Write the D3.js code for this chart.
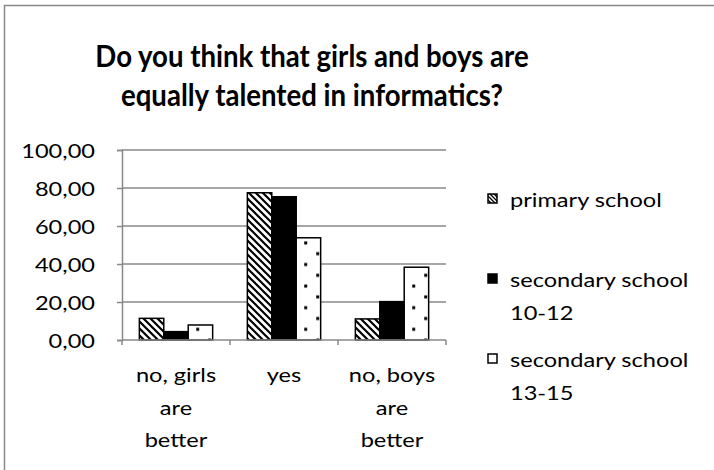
<!DOCTYPE html>
<html>
<head>
<meta charset="utf-8">
<script src="https://cdn.jsdelivr.net/npm/d3@7"></script>
<style>
  html, body { margin: 0; padding: 0; background: #fff; }
  svg { display: block; }
  text { font-family: "Lato", "Open Sans", sans-serif; fill: #000; }
</style>
</head>
<body>
<svg id="chart" width="714" height="470"></svg>
<script>
// ---- data ----
const categories = [["no, girls", "are", "better"], ["yes"], ["no, boys", "are", "better"]];
const seriesNames = [["primary school"], ["secondary school", "10-12"], ["secondary school", "13-15"]];
const primarySchool = [11.4, 77.5, 11.1];
const secondary1012 = [4.4, 75.4, 20.2];
const secondary1315 = [7.9, 53.8, 38.3];
const yTicks = [0, 20, 40, 60, 80, 100];
const titleLines = ["Do you think that girls and boys are", "equally talented in informatics?"];

const series = [primarySchool, secondary1012, secondary1315];

const SX = 1.18;          // horizontal stretch of regular text
const TSX = 0.89;         // horizontal squeeze of the title

const svg = d3.select("#chart");
const defs = svg.append("defs");

// helper: stretched text at (x, y)
function stext(parent, x, y, str, size, sx, anchor, weight) {
  return parent.append("text")
    .attr("transform", `translate(${x},${y}) scale(${sx},1)`)
    .attr("text-anchor", anchor || "start")
    .style("font-size", size + "px")
    .style("font-weight", weight || "normal")
    .text(str);
}

// patterns
const diag = defs.append("pattern").attr("id", "diag")
  .attr("patternUnits", "userSpaceOnUse").attr("width", 7).attr("height", 7);
diag.append("rect").attr("width", 7).attr("height", 7).attr("fill", "#fff");
diag.append("path").attr("d", "M-2,-2 L9,9 M-9,-2 L2,9 M5,-2 L16,9")
  .attr("stroke", "#000").attr("stroke-width", 2.2);

const diagSmall = defs.append("pattern").attr("id", "diagSmall")
  .attr("patternUnits", "userSpaceOnUse").attr("width", 4).attr("height", 4);
diagSmall.append("rect").attr("width", 4).attr("height", 4).attr("fill", "#fff");
diagSmall.append("path").attr("d", "M-1,-1 L5,5 M-5,-1 L1,5 M3,-1 L9,5")
  .attr("stroke", "#000").attr("stroke-width", 1.3);

const margin = { left: 122, right: 446, top: 150, bottom: 340 };

const x0 = d3.scaleBand().domain(d3.range(categories.length))
  .range([margin.left, margin.right]).paddingInner(0).paddingOuter(0);
const x1 = d3.scaleBand().domain(d3.range(series.length))
  .range([0, x0.bandwidth()]).paddingOuter(0.71).paddingInner(0);
const y = d3.scaleLinear().domain([0, 100]).range([margin.bottom, margin.top]);

// dotted patterns, one per category (offset relative to bar)
categories.forEach((c, i) => {
  const bx = x0(i) + x1(2);
  const p = defs.append("pattern").attr("id", "dots" + i)
    .attr("patternUnits", "userSpaceOnUse")
    .attr("x", bx).attr("y", 329.3 - 21.6 * 10)
    .attr("width", 24).attr("height", 21.6);
  p.append("rect").attr("width", 24).attr("height", 21.6).attr("fill", "#fff");
  p.append("rect").attr("x", 8).attr("y", -1.5).attr("width", 3).attr("height", 3).attr("fill", "#000");
  p.append("rect").attr("x", 8).attr("y", 20.1).attr("width", 3).attr("height", 3).attr("fill", "#000");
  p.append("rect").attr("x", 20).attr("y", 9.3).attr("width", 3).attr("height", 3).attr("fill", "#000");
});

// outer border (extends beyond view to the right and bottom)
svg.append("path").attr("d", "M4.5,480 L4.5,5.5 L720,5.5")
  .attr("fill", "none").attr("stroke", "#888").attr("stroke-width", 1.5);

// title
titleLines.forEach((t, i) => stext(svg, 312, 67 + i * 39, t, 31, TSX, "middle", "bold"));

// gridlines
svg.append("g").selectAll("line").data(yTicks.filter(d => d > 0)).join("line")
  .attr("x1", margin.left).attr("x2", margin.right)
  .attr("y1", d => y(d)).attr("y2", d => y(d))
  .attr("stroke", "#888").attr("stroke-width", 1.5);

// y axis
const fmt = d => d3.format(".2f")(d).replace(".", ",");
const yAxis = d3.axisLeft(y).tickValues(yTicks).tickSize(5).tickFormat(fmt);
const gy = svg.append("g").attr("transform", `translate(${margin.left},0)`).call(yAxis);
gy.select(".domain").attr("stroke", "#888").attr("stroke-width", 1.5);
gy.selectAll(".tick line").attr("stroke", "#888").attr("stroke-width", 1.5);
gy.selectAll(".tick text").remove();
gy.selectAll(".tick").each(function(d) {
  stext(d3.select(this), -27, 7, fmt(d), 20, SX, "end");
});

// bars
const g = svg.append("g");
categories.forEach((c, i) => {
  series.forEach((s, j) => {
    const fill = j === 0 ? "url(#diag)" : (j === 1 ? "#000" : `url(#dots${i})`);
    g.append("rect")
      .attr("x", x0(i) + x1(j)).attr("width", x1.bandwidth())
      .attr("y", y(s[i])).attr("height", y(0) - y(s[i]))
      .attr("fill", fill).attr("stroke", "#000").attr("stroke-width", 1.5);
  });
});

// x axis
const gx = svg.append("g");
gx.append("line").attr("x1", margin.left).attr("x2", margin.right)
  .attr("y1", y(0)).attr("y2", y(0)).attr("stroke", "#888").attr("stroke-width", 1.5);
const bounds = d3.range(categories.length + 1).map(i => margin.left + i * x0.bandwidth());
gx.selectAll("line.tk").data(bounds).join("line").attr("class", "tk")
  .attr("x1", d => d).attr("x2", d => d).attr("y1", y(0)).attr("y2", y(0) + 5)
  .attr("stroke", "#888").attr("stroke-width", 1.5);
categories.forEach((c, i) => {
  c.forEach((line, k) => stext(gx, x0(i) + x0.bandwidth() / 2, 382 + k * 32.5, line, 20, SX, "middle"));
});

// legend
const legendY = [200, 280, 360];
const lg = svg.append("g");
seriesNames.forEach((names, j) => {
  const cy = legendY[j];
  lg.append("rect").attr("x", 488).attr("y", cy - 6).attr("width", 9).attr("height", 9)
    .attr("fill", j === 0 ? "url(#diagSmall)" : (j === 1 ? "#000" : "#fff"))
    .attr("stroke", "#000").attr("stroke-width", 1.5);
  names.forEach((n, k) => stext(lg, 510, cy + 7 + k * 33, n, 20, SX, "start"));
});
</script>
</body>
</html>
